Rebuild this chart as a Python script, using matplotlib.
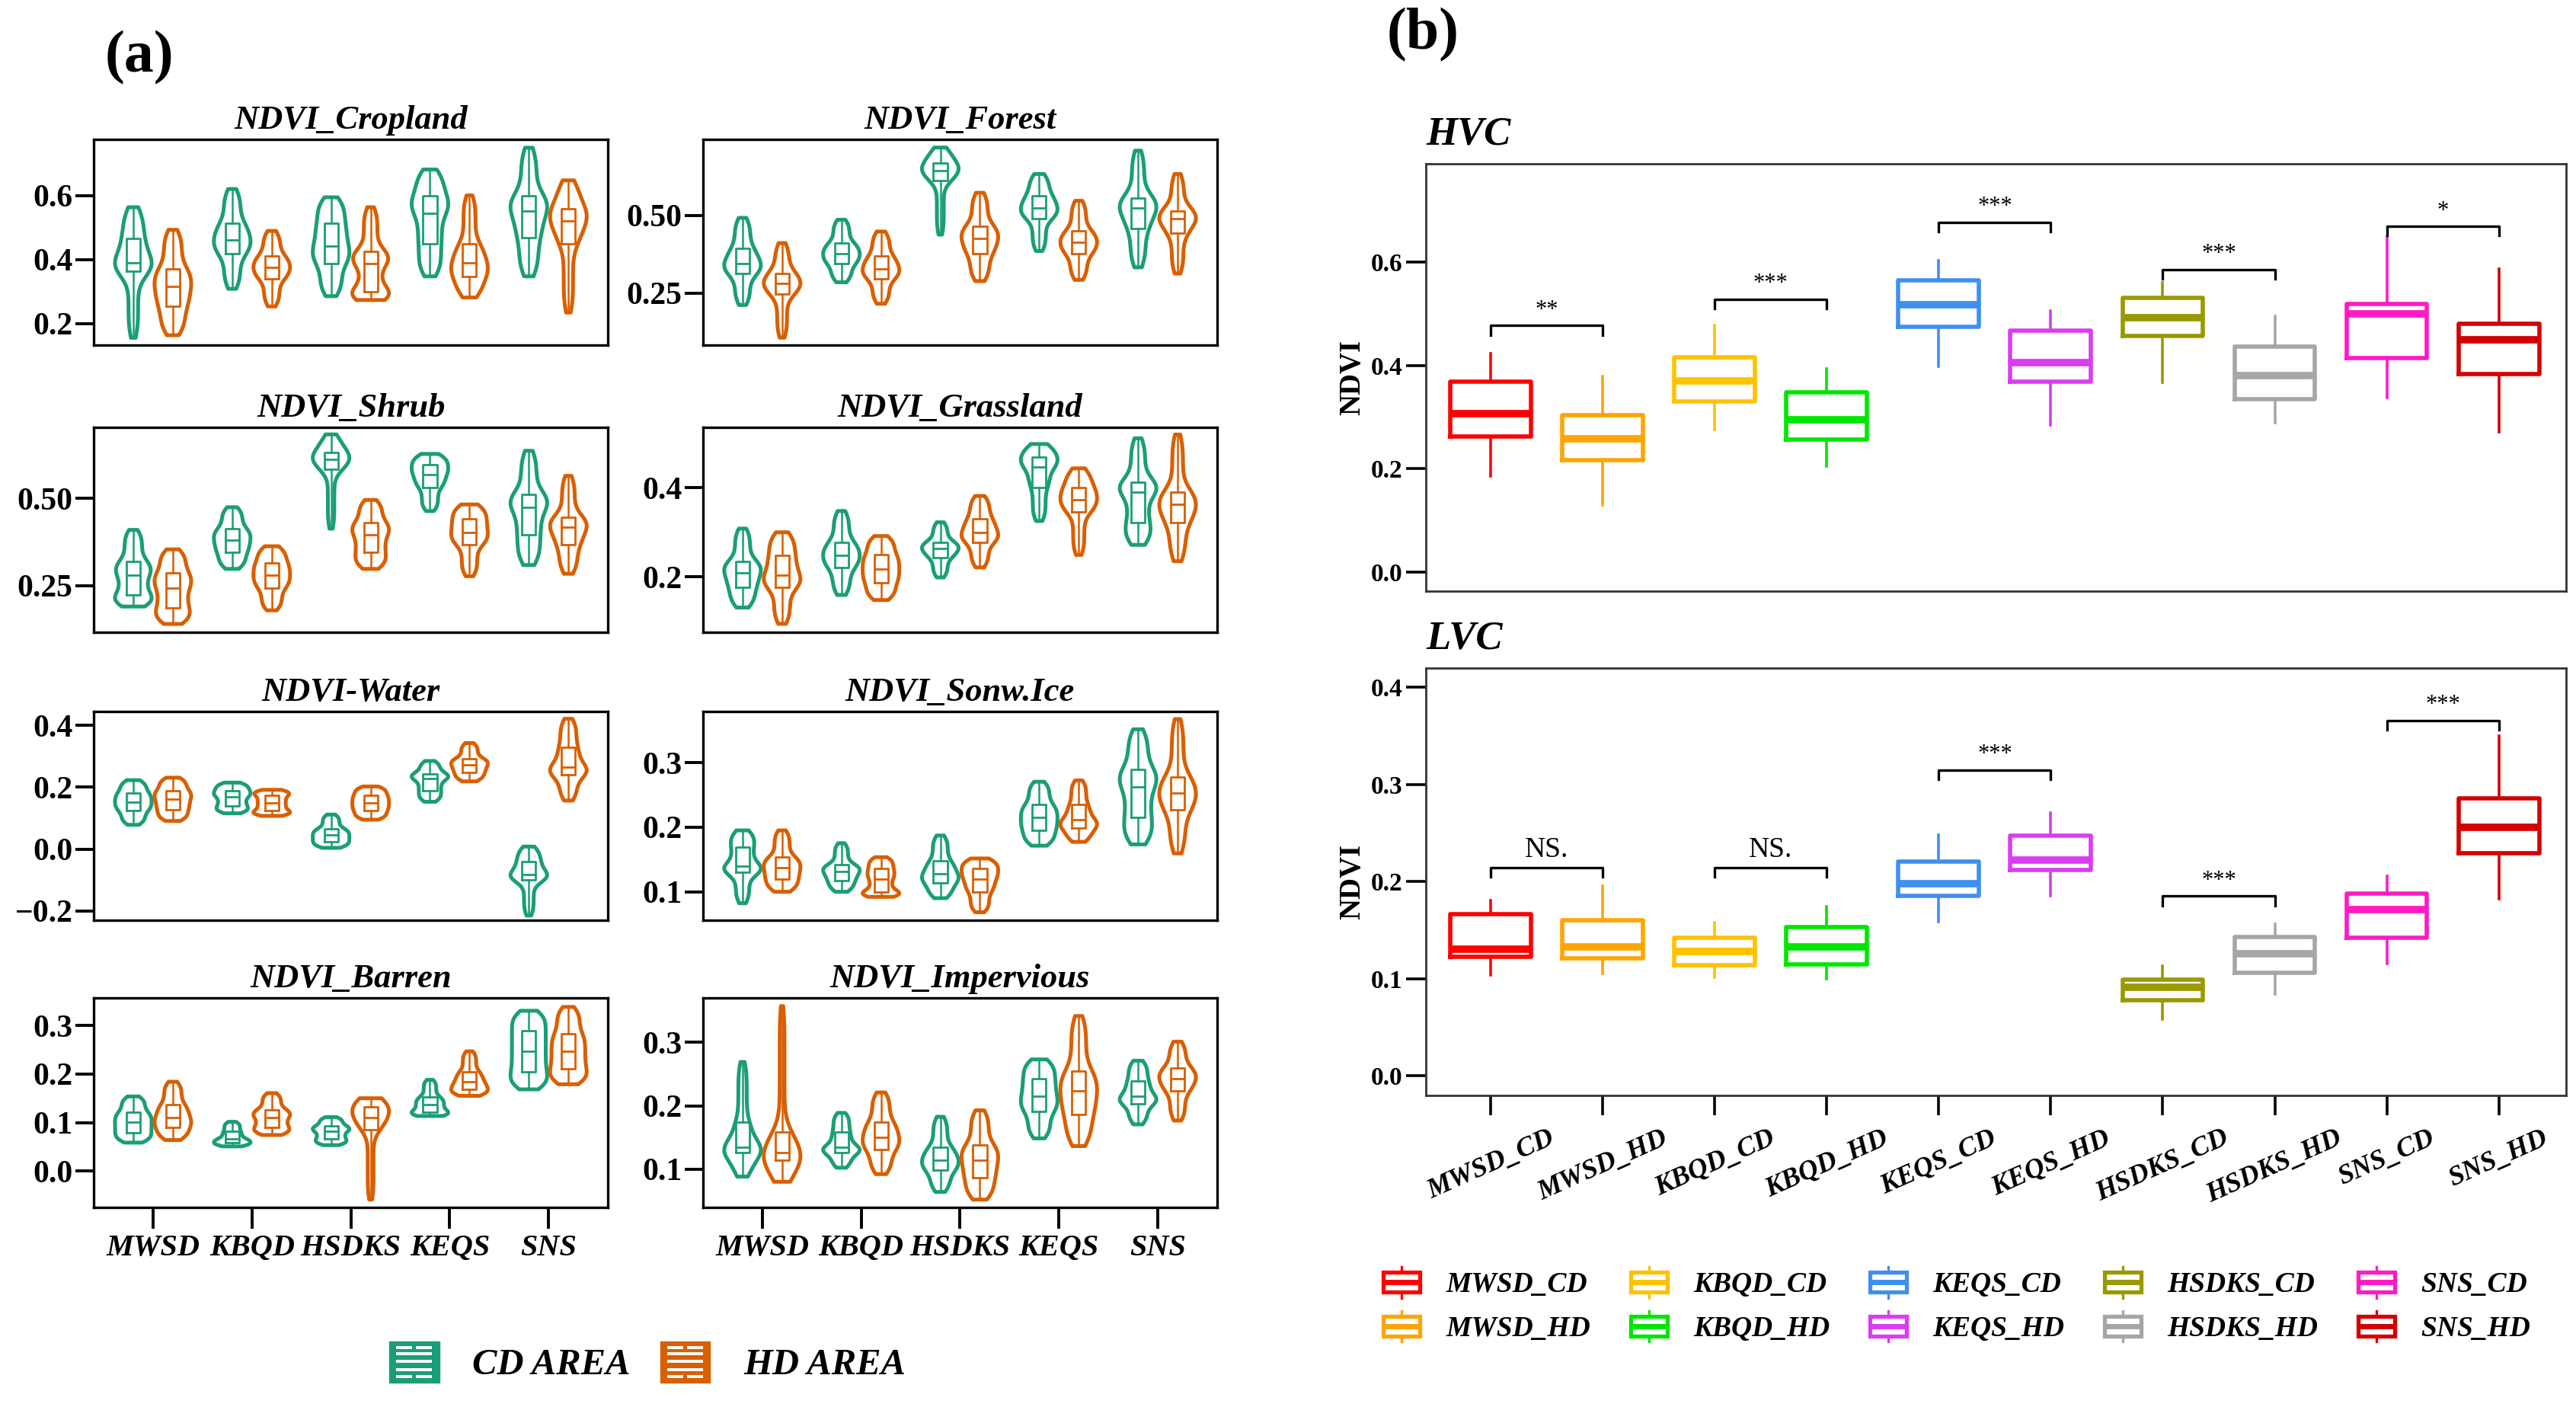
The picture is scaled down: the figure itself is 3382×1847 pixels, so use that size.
import numpy as np
import matplotlib
matplotlib.use("Agg")
import matplotlib.pyplot as plt
from matplotlib.patches import Rectangle, Patch
from matplotlib.lines import Line2D
from matplotlib.legend_handler import HandlerBase

plt.rcParams['font.family'] = 'serif'
plt.rcParams['font.serif'] = ['Liberation Serif', 'DejaVu Serif']

# ---------------- data, panel (a): [min, q1, median, q3, max] ----------------
sites_a = ["MWSD", "KBQD", "HSDKS", "KEQS", "SNS"]

cropland_cd = [[0.155, 0.363, 0.390, 0.465, 0.563], [0.308, 0.418, 0.461, 0.512, 0.620],
               [0.285, 0.387, 0.442, 0.512, 0.594], [0.347, 0.449, 0.544, 0.598, 0.681],
               [0.347, 0.469, 0.551, 0.598, 0.749]]
cropland_hd = [[0.163, 0.253, 0.316, 0.371, 0.4925], [0.253, 0.340, 0.375, 0.410, 0.489],
               [0.273, 0.300, 0.387, 0.426, 0.563], [0.281, 0.347, 0.390, 0.449, 0.600],
               [0.234, 0.449, 0.520, 0.559, 0.647]]
forest_cd = [[0.212, 0.313, 0.345, 0.3935, 0.492], [0.285, 0.345, 0.377, 0.410, 0.486],
             [0.438, 0.611, 0.6435, 0.668, 0.718], [0.3855, 0.4903, 0.5226, 0.563, 0.633],
             [0.333, 0.458, 0.5226, 0.555, 0.708]]
forest_hd = [[0.107, 0.248, 0.281, 0.313, 0.411], [0.216, 0.297, 0.329, 0.369, 0.448],
             [0.289, 0.377, 0.426, 0.466, 0.5726], [0.2927, 0.377, 0.4137, 0.450, 0.5468],
             [0.313, 0.442, 0.490, 0.5145, 0.633]]
shrub_cd = [[0.190, 0.223, 0.280, 0.320, 0.410], [0.298, 0.345, 0.381, 0.4135, 0.475],
            [0.4135, 0.583, 0.612, 0.633, 0.684], [0.464, 0.532, 0.568, 0.597, 0.628],
            [0.309, 0.395, 0.475, 0.511, 0.637]]
shrub_hd = [[0.140, 0.1866, 0.244, 0.2875, 0.354], [0.179, 0.244, 0.280, 0.316, 0.363],
            [0.298, 0.345, 0.3955, 0.432, 0.496], [0.277, 0.367, 0.4027, 0.442, 0.483],
            [0.284, 0.367, 0.417, 0.446, 0.565]]
grass_cd = [[0.1315, 0.176, 0.210, 0.2354, 0.3084], [0.1596, 0.2213, 0.249, 0.2775, 0.3478],
            [0.1989, 0.2438, 0.2635, 0.2775, 0.3225], [0.3253, 0.401, 0.446, 0.4685, 0.4978],
            [0.2719, 0.3225, 0.390, 0.4124, 0.5107]]
grass_hd = [[0.095, 0.176, 0.2045, 0.249, 0.300], [0.1483, 0.1876, 0.2185, 0.2494, 0.2916],
            [0.2213, 0.2775, 0.300, 0.331, 0.3815], [0.2494, 0.345, 0.373, 0.401, 0.4433],
            [0.2354, 0.3225, 0.362, 0.390, 0.5191]]
water_cd = [[0.0785, 0.124, 0.153, 0.182, 0.223], [0.1157, 0.140, 0.169, 0.190, 0.215],
            [0.004, 0.0248, 0.0455, 0.066, 0.1116], [0.153, 0.190, 0.227, 0.2438, 0.285],
            [-0.215, -0.099, -0.083, -0.041, 0.008]]
water_hd = [[0.091, 0.128, 0.161, 0.190, 0.231], [0.1074, 0.124, 0.1488, 0.1736, 0.1917],
            [0.095, 0.124, 0.1488, 0.1736, 0.2025], [0.219, 0.248, 0.2727, 0.293, 0.343],
            [0.157, 0.240, 0.265, 0.330, 0.4215]]
snow_cd = [[0.0822, 0.1297, 0.1396, 0.1693, 0.195], [0.100, 0.1178, 0.1317, 0.1416, 0.1752],
           [0.0901, 0.1139, 0.1277, 0.1475, 0.1871], [0.1713, 0.195, 0.2149, 0.2347, 0.2703],
           [0.1733, 0.2149, 0.2624, 0.290, 0.3515]]
snow_hd = [[0.100, 0.1198, 0.1376, 0.1535, 0.195], [0.0921, 0.100, 0.1198, 0.1356, 0.1535],
           [0.0683, 0.100, 0.1198, 0.1356, 0.1515], [0.1772, 0.199, 0.211, 0.2347, 0.2723],
           [0.1594, 0.2267, 0.2525, 0.278, 0.3673]]
barren_cd = [[0.0585, 0.0795, 0.1004, 0.121, 0.1537], [0.0507, 0.0585, 0.0664, 0.082, 0.1014],
             [0.0533, 0.0664, 0.082, 0.0925, 0.111], [0.1134, 0.121, 0.137, 0.1526, 0.188],
             [0.1683, 0.205, 0.2467, 0.2886, 0.3304]]
barren_hd = [[0.0638, 0.090, 0.111, 0.137, 0.184], [0.0742, 0.090, 0.111, 0.1265, 0.1605],
             [-0.059, 0.0847, 0.111, 0.1317, 0.150], [0.155, 0.168, 0.184, 0.205, 0.2467],
             [0.1788, 0.210, 0.2467, 0.2833, 0.3382]]
imperv_cd = [[0.0884, 0.1265, 0.1345, 0.1747, 0.269], [0.1024, 0.1265, 0.1345, 0.1586, 0.1888],
             [0.0643, 0.0984, 0.1145, 0.1345, 0.1827], [0.1486, 0.1908, 0.2149, 0.243, 0.273],
             [0.1707, 0.2028, 0.2149, 0.239, 0.271]]
imperv_hd = [[0.0803, 0.1145, 0.1265, 0.1586, 0.357], [0.0924, 0.1305, 0.1506, 0.1747, 0.2209],
             [0.0522, 0.0863, 0.1145, 0.1386, 0.1928], [0.1365, 0.1867, 0.2229, 0.255, 0.3414],
             [0.1767, 0.2229, 0.243, 0.259, 0.301]]

titles_a = ["NDVI_Cropland", "NDVI_Forest", "NDVI_Shrub", "NDVI_Grassland",
            "NDVI-Water", "NDVI_Sonw.Ice", "NDVI_Barren", "NDVI_Impervious"]
series_a = [(cropland_cd, cropland_hd), (forest_cd, forest_hd), (shrub_cd, shrub_hd),
            (grass_cd, grass_hd), (water_cd, water_hd), (snow_cd, snow_hd),
            (barren_cd, barren_hd), (imperv_cd, imperv_hd)]
ylims_a = [(0.132, 0.775), (0.083, 0.744), (0.116, 0.704), (0.076, 0.535),
           (-0.23, 0.445), (0.056, 0.379), (-0.075, 0.357), (0.04, 0.37)]
yticks_a = [[0.2, 0.4, 0.6], [0.25, 0.50], [0.25, 0.50], [0.2, 0.4],
            [-0.2, 0.0, 0.2, 0.4], [0.1, 0.2, 0.3], [0.0, 0.1, 0.2, 0.3], [0.1, 0.2, 0.3]]
ydec_a = [1, 2, 2, 1, 1, 1, 1, 1]

# ---------------- data, panel (b): [whislo, q1, median, q3, whishi] ----------------
groups_b = ["MWSD_CD", "MWSD_HD", "KBQD_CD", "KBQD_HD", "KEQS_CD",
            "KEQS_HD", "HSDKS_CD", "HSDKS_HD", "SNS_CD", "SNS_HD"]
colors_b = ["#FF0000", "#FFA500", "#FFC200", "#00E600", "#3F8FF0",
            "#DA3CF2", "#999900", "#A6A6A6", "#FF1AC6", "#D40000"]
hvc = [[0.186, 0.2616, 0.307, 0.368, 0.4226], [0.130, 0.217, 0.258, 0.304, 0.3785],
       [0.276, 0.3305, 0.370, 0.416, 0.478], [0.204, 0.256, 0.294, 0.347, 0.394],
       [0.398, 0.475, 0.5165, 0.564, 0.603], [0.2845, 0.3687, 0.405, 0.4666, 0.506],
       [0.3667, 0.457, 0.4916, 0.530, 0.5606], [0.288, 0.334, 0.380, 0.4357, 0.495],
       [0.337, 0.414, 0.500, 0.518, 0.649], [0.271, 0.383, 0.449, 0.480, 0.587]]
lvc = [[0.104, 0.1226, 0.130, 0.1664, 0.1804], [0.105, 0.121, 0.133, 0.160, 0.1954],
       [0.1016, 0.114, 0.128, 0.142, 0.158], [0.0998, 0.115, 0.133, 0.153, 0.1744],
       [0.1583, 0.185, 0.198, 0.2207, 0.248], [0.1856, 0.212, 0.222, 0.2476, 0.2708],
       [0.0578, 0.0778, 0.091, 0.099, 0.1128], [0.084, 0.1058, 0.126, 0.1426, 0.156],
       [0.1156, 0.1419, 0.171, 0.188, 0.2056], [0.182, 0.2294, 0.2557, 0.286, 0.350]]
hvc_sig_y = [0.477, 0.528, 0.677, 0.5855, 0.669]
hvc_sig = ["**", "***", "***", "***", "*"]
lvc_sig_y = [0.2147, 0.2147, 0.315, 0.185, 0.366]
lvc_sig = ["NS.", "NS.", "***", "***", "***"]

TEAL = "#1B9E77"
ORANGE = "#D95F02"


def violin_stats(q, n=200):
    # smooth density built from the quartile intervals (0.25 of mass in each)
    lo, hi = q[0], q[-1]
    bw = (hi - lo) / 12.0
    grid = np.linspace(lo - 4 * bw, hi + 4 * bw, 900)
    step = grid[1] - grid[0]
    dens = np.zeros_like(grid)
    for a, b in zip(q[:-1], q[1:]):
        dens[(grid >= a) & (grid <= b)] = 0.25 / (b - a)
    m = int(4 * bw / step)
    k = np.arange(-m, m + 1) * step
    ker = np.exp(-0.5 * (k / bw) ** 2)
    ker /= ker.sum()
    sm = np.convolve(dens, ker, mode="same")
    coords = np.linspace(lo, hi, n)
    vals = np.interp(coords, grid, sm)
    return dict(coords=coords, vals=vals, mean=q[2], median=q[2], min=lo, max=hi)


def box_stats(q):
    return dict(whislo=q[0], q1=q[1], med=q[2], q3=q[3], whishi=q[4])


class ViolinKey(HandlerBase):
    def create_artists(self, legend, orig_handle, xdescent, ydescent, width, height, fontsize, trans):
        c = orig_handle.get_edgecolor()
        x0, y0 = -xdescent, -ydescent
        arts = [Rectangle((x0, y0), width, height, facecolor=c, edgecolor=c, lw=1, transform=trans)]
        for fy, split in [(0.15, True), (0.32, False), (0.52, False), (0.70, False), (0.85, True)]:
            y = y0 + fy * height
            segs = [(0.14, 0.46), (0.54, 0.86)] if split else [(0.14, 0.86)]
            for a, b in segs:
                arts.append(Line2D([x0 + a * width, x0 + b * width], [y, y], color="white",
                                   lw=2.8, solid_capstyle="butt", transform=trans))
        return arts


class BoxKey(HandlerBase):
    def create_artists(self, legend, orig_handle, xdescent, ydescent, width, height, fontsize, trans):
        c = orig_handle.get_edgecolor()
        x0, y0 = -xdescent, -ydescent
        cx = x0 + width / 2
        bw = width * 0.85
        b0, b1 = y0 + 0.18 * height, y0 + 0.82 * height
        arts = [Line2D([cx, cx], [y0, b0], color=c, lw=2.4, transform=trans),
                Line2D([cx, cx], [b1, y0 + height], color=c, lw=2.4, transform=trans),
                Rectangle((cx - bw / 2, b0), bw, b1 - b0, facecolor="none", edgecolor=c,
                          lw=3.8, transform=trans),
                Line2D([cx - bw / 2, cx + bw / 2], [(b0 + b1) / 2] * 2, color=c, lw=5,
                       solid_capstyle="butt", transform=trans)]
        return arts


fig = plt.figure(figsize=(33.82, 18.47), dpi=100)

# ---------------- panel (a) ----------------
col_x = [0.0364, 0.2729]
col_w = 0.1996
rows = [(0.7547, 0.1462), (0.5506, 0.1456), (0.346, 0.1483), (0.1419, 0.1489)]
xg = np.arange(1, len(sites_a) + 1)

for i, (title, (cd, hd)) in enumerate(zip(titles_a, series_a)):
    r, c = divmod(i, 2)
    ax = fig.add_axes([col_x[c], rows[r][0], col_w, rows[r][1]])
    for data, off, colr in [(cd, -0.2, TEAL), (hd, 0.2, ORANGE)]:
        pos = xg + off
        parts = ax.violin([violin_stats(q) for q in data], positions=pos, widths=0.37,
                          showmeans=False, showextrema=False, showmedians=False)
        for b in parts["bodies"]:
            b.set_facecolor("none")
            b.set_edgecolor(colr)
            b.set_linewidth(3.6)
            b.set_alpha(1)
        ax.bxp([box_stats(q) for q in data], positions=pos, widths=0.14, showfliers=False,
               showcaps=False, manage_ticks=False,
               boxprops=dict(color=colr, lw=2.0), whiskerprops=dict(color=colr, lw=1.8),
               medianprops=dict(color=colr, lw=2.0))
    ax.set_xlim(0.4, 5.6)
    ax.set_ylim(*ylims_a[i])
    ax.set_yticks(yticks_a[i])
    ax.set_yticklabels([f"{v:.{ydec_a[i]}f}".replace("-", "\u2212") for v in yticks_a[i]],
                       fontsize=30, fontweight="bold")
    ax.tick_params(axis="y", length=17, width=2.8, pad=3)
    if r == 3:
        ax.set_xticks(xg)
        ax.set_xticklabels(sites_a, fontsize=29, fontweight="bold", fontstyle="italic")
        ax.tick_params(axis="x", length=20, width=2.8, pad=5)
    else:
        ax.set_xticks([])
    for s in ax.spines.values():
        s.set_linewidth(2.4)
    ax.set_title(title, fontsize=32, fontweight="bold", fontstyle="italic", pad=10)

fig.text(0.054, 0.959, "(a)", fontsize=56, fontweight="bold", ha="center", va="center")

handles_a = [Patch(edgecolor=TEAL, label="CD AREA"), Patch(edgecolor=ORANGE, label="HD AREA")]
fig.legend(handles=handles_a, handler_map={Patch: ViolinKey()}, loc="center",
           bbox_to_anchor=(0.2513, 0.032), ncol=2, frameon=False,
           prop=dict(size=35, weight="bold", style="italic"),
           handlelength=1.35, handleheight=1.35, handletextpad=0.9, columnspacing=0.8)

# ---------------- panel (b) ----------------
xb = np.arange(1, len(groups_b) + 1)
rects_b = [[0.5535, 0.5799, 0.4426, 0.3037], [0.5535, 0.2217, 0.4426, 0.3035]]
for j, (name, data, ylim, yt, sy, sl, drop) in enumerate([
        ("HVC", hvc, (-0.037, 0.79), [0.0, 0.2, 0.4, 0.6], hvc_sig_y, hvc_sig, 0.018),
        ("LVC", lvc, (-0.02, 0.42), [0.0, 0.1, 0.2, 0.3, 0.4], lvc_sig_y, lvc_sig, 0.0098)]):
    ax = fig.add_axes(rects_b[j])
    for k, q in enumerate(data):
        colr = colors_b[k]
        ax.bxp([box_stats(q)], positions=[xb[k]], widths=0.72, showfliers=False,
               showcaps=False, manage_ticks=False,
               boxprops=dict(color=colr, lw=4.0), whiskerprops=dict(color=colr, lw=2.6),
               medianprops=dict(color=colr, lw=7, solid_capstyle="butt"))
    for g in range(5):
        xa, xc = xb[2 * g], xb[2 * g + 1]
        y = sy[g]
        ax.plot([xa, xa, xc, xc], [y - drop, y, y, y - drop], color="black", lw=2.4)
        fs = 27 if sl[g].startswith("N") else 22
        ax.annotate(sl[g], xy=((xa + xc) / 2, y), xytext=(0, 4), textcoords="offset points",
                    ha="center", va="bottom", fontsize=fs)
    ax.set_xlim(0.42, 10.6)
    ax.set_ylim(*ylim)
    ax.set_yticks(yt)
    ax.set_yticklabels([f"{v:.1f}" for v in yt], fontsize=24, fontweight="bold")
    ax.tick_params(axis="y", length=19, width=2.6, pad=3)
    ax.set_ylabel("NDVI", fontsize=28, fontweight="bold", labelpad=4)
    if j == 1:
        ax.set_xticks(xb)
        ax.set_xticklabels(groups_b, fontsize=26, fontweight="bold", fontstyle="italic",
                           rotation=24, ha="center")
        ax.tick_params(axis="x", length=19, width=2.6, pad=10)
    else:
        ax.set_xticks([])
    for s in ax.spines.values():
        s.set_linewidth(2.0)
        s.set_color("#333333")
    ax.set_title(name, loc="left", fontsize=38, fontweight="bold", fontstyle="italic", pad=18)

fig.text(0.5524, 0.975, "(b)", fontsize=56, fontweight="bold", ha="center", va="center")

handles_b = [Patch(edgecolor=c, label=g) for g, c in zip(groups_b, colors_b)]
fig.legend(handles=handles_b, handler_map={Patch: BoxKey()}, loc="center",
           bbox_to_anchor=(0.759, 0.073), ncol=5, frameon=False,
           prop=dict(size=27, weight="bold", style="italic"),
           handlelength=1.5, handleheight=1.3, handletextpad=0.8, columnspacing=1.3,
           labelspacing=0.45)

fig.savefig("out.png", dpi=100, facecolor="white")
